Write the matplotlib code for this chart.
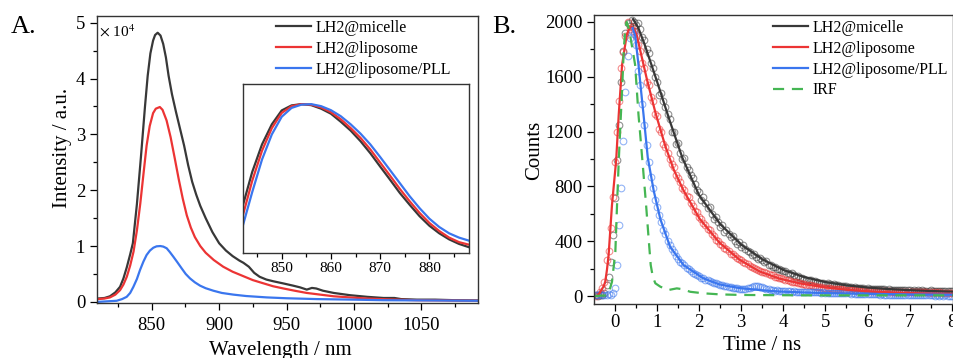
import numpy as np
import matplotlib
matplotlib.use("Agg")
import matplotlib.pyplot as plt
from matplotlib.ticker import MultipleLocator

plt.rcParams['font.family'] = ['Liberation Serif', 'DejaVu Serif']
plt.rcParams['mathtext.fontset'] = 'stix'

# ---------------- Panel A data (intensity in units of 1e4) ----------------
wl_micelle = [810, 815, 819, 823, 826.5, 829, 831.5, 834, 836, 839, 842, 845, 847,
              849, 851, 852.5, 854.4, 856.5, 858.5, 860.5, 862.5, 865, 868, 871, 874, 877, 880,
              883, 886, 890, 895, 900, 905, 910, 915, 918, 922, 926, 930, 935, 940, 947.7, 955,
              960, 965, 968.8, 972, 977, 985, 997, 1010, 1022, 1030, 1035, 1046.7, 1060, 1075,
              1092]
int_micelle = [0.06, 0.07, 0.10, 0.17, 0.27, 0.42, 0.62, 0.85, 1.05, 1.75, 2.60, 3.50, 4.05,
               4.45, 4.68, 4.78, 4.82, 4.77, 4.62, 4.38, 4.05, 3.72, 3.40, 3.10, 2.80, 2.45,
               2.15, 1.92, 1.72, 1.50, 1.25, 1.05, 0.92, 0.82, 0.74, 0.70, 0.63, 0.52, 0.45,
               0.40, 0.37, 0.33, 0.29, 0.26, 0.22, 0.25, 0.24, 0.20, 0.16, 0.12, 0.09, 0.07,
               0.07, 0.05, 0.04, 0.04, 0.03, 0.025]

wl_lipo = [810, 815, 819, 823, 826.5, 829, 831.5, 834, 836.5, 839, 841.5, 844, 846.2, 848.5, 851,
           853, 856, 858, 861, 864, 867, 870, 873, 876, 879, 882, 886, 890, 896, 903, 910, 918,
           925, 930.4, 940, 947.7, 956, 965, 975, 985, 997, 1010, 1025, 1046.7, 1070, 1092]
int_lipo = [0.05, 0.06, 0.08, 0.13, 0.21, 0.31, 0.45, 0.65, 0.90, 1.28, 1.76, 2.32, 2.80, 3.15, 3.38,
            3.46, 3.49, 3.44, 3.25, 2.95, 2.58, 2.20, 1.85, 1.55, 1.33, 1.16, 1.00, 0.88, 0.75,
            0.63, 0.54, 0.46, 0.39, 0.35, 0.28, 0.24, 0.20, 0.16, 0.13, 0.10, 0.08, 0.06, 0.045,
            0.03, 0.025, 0.02]

wl_pll = [810, 817, 824, 828, 831.4, 834, 836.4, 839, 841.3, 843.8, 846.2, 848.7, 851.2, 853.6,
          856.4, 858.6, 861.1, 863.5, 866, 869, 872.2, 875.2, 878.4, 882, 885.9, 890, 895.7, 902,
          910.6, 920, 935.4, 950, 972.5, 1000, 1022, 1060, 1092]
int_pll = [0.0, 0.01, 0.02, 0.05, 0.09, 0.16, 0.27, 0.41, 0.57, 0.72, 0.84, 0.92, 0.97, 0.995,
           1.00, 0.99, 0.96, 0.89, 0.81, 0.71, 0.60, 0.50, 0.42, 0.35, 0.29, 0.245, 0.20, 0.16,
           0.13, 0.105, 0.08, 0.065, 0.05, 0.04, 0.03, 0.025, 0.02]

# inset: normalized spectra around the maximum
wl_inset = [842, 844, 846, 848, 850, 852, 854, 856, 858, 860, 862, 864, 866, 868, 870, 872,
            874, 876, 878, 880, 882, 884, 886, 888]
norm_micelle = [0.59, 0.73, 0.84, 0.92, 0.975, 0.995, 1.0, 0.996, 0.982, 0.962, 0.93, 0.895,
                0.853, 0.805, 0.752, 0.70, 0.647, 0.60, 0.555, 0.517, 0.487, 0.463, 0.445, 0.432]
norm_lipo = [0.55, 0.695, 0.815, 0.905, 0.965, 0.992, 1.0, 0.998, 0.987, 0.968, 0.94, 0.905,
             0.866, 0.82, 0.768, 0.716, 0.663, 0.614, 0.568, 0.528, 0.496, 0.47, 0.452, 0.442]
norm_pll = [0.51, 0.65, 0.78, 0.88, 0.95, 0.985, 0.998, 1.0, 0.992, 0.976, 0.952, 0.92, 0.883,
            0.84, 0.79, 0.738, 0.686, 0.634, 0.587, 0.545, 0.512, 0.487, 0.470, 0.458]

# ---------------- Panel B data ----------------
t_start, t_step = -0.45, 0.05   # channel times of the decay histograms (ns)
cnt_micelle = [5, 0, 10, 5, 22, 80, 140, 250, 445, 713,
               993, 1250, 1560, 1790, 1920, 1990, 1970, 2010, 2000, 1980,
               1990, 1950, 1890, 1870, 1800, 1770, 1700, 1660, 1600, 1560,
               1470, 1480, 1420, 1380, 1330, 1290, 1200, 1200, 1110, 1120,
               1040, 1000, 1010, 940, 920, 880, 860, 820, 775, 760,
               700, 720, 680, 640, 650, 600, 565, 580, 540, 505,
               520, 470, 480, 450, 430, 440, 400, 380, 395, 360,
               370, 340, 330, 320, 300, 310, 285, 270, 280, 260,
               250, 255, 230, 225, 215, 210, 200, 195, 190, 180,
               185, 170, 160, 165, 150, 140, 145, 130, 135, 125,
               120, 115, 118, 105, 110, 100, 98, 95, 92, 90,
               95, 88, 84, 86, 78, 80, 74, 76, 70, 72,
               66, 68, 62, 64, 60, 62, 57, 59, 55, 57,
               53, 55, 51, 54, 49, 51, 48, 50, 46, 48,
               45, 47, 44, 46, 43, 45, 42, 44, 41, 43,
               40, 43, 39, 42, 40, 41, 38, 40, 39, 41,
               37, 40, 38, 39, 36, 38, 37, 39, 35, 37]
cnt_lipo = [0, 10, 30, 60, 100, 263, 330, 500, 720, 976,
            1200, 1420, 1662, 1780, 1900, 2000, 1950, 1960, 1930, 1900,
            1830, 1790, 1700, 1660, 1560, 1540, 1450, 1420, 1330, 1310,
            1220, 1200, 1110, 1090, 1040, 1000, 960, 940, 880, 860,
            830, 790, 770, 730, 720, 680, 660, 620, 610, 580,
            560, 530, 520, 490, 480, 450, 440, 410, 400, 380,
            370, 350, 345, 325, 310, 305, 290, 280, 270, 260,
            250, 240, 235, 220, 215, 205, 200, 190, 185, 175,
            172, 165, 160, 152, 150, 142, 138, 132, 130, 124,
            120, 115, 112, 106, 104, 99, 96, 92, 90, 85,
            83, 79, 77, 74, 71, 68, 67, 63, 62, 60,
            57, 58, 53, 55, 50, 52, 48, 50, 46, 47,
            44, 46, 42, 44, 40, 42, 39, 41, 37, 39,
            36, 38, 35, 37, 34, 36, 33, 35, 32, 34,
            31, 33, 30, 32, 30, 31, 29, 31, 28, 30,
            28, 30, 27, 29, 27, 28, 26, 28, 25, 27,
            25, 27, 24, 26, 24, 25, 23, 25, 22, 24]
cnt_pll = [10, 5, 15, 5, 10, 5, 15, 10, 25, 60,
           226, 520, 790, 1130, 1490, 1750, 1880, 1935, 1910, 1830,
           1640, 1540, 1400, 1250, 1100, 980, 870, 790, 700, 650,
           590, 540, 480, 450, 400, 370, 340, 320, 290, 270,
           250, 240, 225, 205, 195, 185, 170, 160, 150, 145,
           135, 130, 120, 115, 108, 100, 98, 92, 86, 84,
           78, 74, 72, 68, 64, 62, 60, 56, 55, 52,
           52, 55, 58, 62, 66, 70, 72, 70, 68, 64,
           60, 55, 50, 46, 44, 40, 42, 38, 40, 36,
           38, 35, 36, 33, 34, 32, 33, 30, 31, 29,
           30, 28, 29, 27, 28, 26, 27, 25, 26, 24,
           25, 23, 24, 22, 23, 21, 22, 20, 21, 19,
           20, 18, 19, 17, 18, 16, 17, 15, 16, 14,
           15, 13, 14, 12, 13, 11, 12, 10, 11, 10,
           11, 9, 10, 8, 9, 8, 9, 7, 8, 7,
           8, 6, 7, 6, 7, 5, 6, 5, 6, 5,
           6, 4, 5, 4, 5, 4, 5, 3, 4, 3]

# fitted curves
tf_micelle = [0.43, 0.55, 0.70, 1.0, 1.3, 1.6, 2.0, 2.5, 3.0, 3.5, 4.0, 4.5, 5.0, 5.5, 6.0, 6.5,
              7.0, 7.5, 8.03]
fit_micelle = [2020, 1960, 1840, 1565, 1280, 1010, 735, 525, 375, 268, 190, 138, 102, 78, 62, 51,
               43, 37, 32]
tf_lipo = [-0.45, -0.40, -0.35, -0.27, -0.23, -0.19, -0.15, -0.07, 0.03, 0.09, 0.17, 0.28, 0.34,
           0.40, 0.46, 0.52, 0.76, 0.96, 1.2, 1.4, 1.63, 2.01, 2.48, 2.96, 3.43, 3.90, 4.38, 5.0,
           5.5, 6.0, 6.5, 7.0, 7.5, 8.03]
fit_lipo = [0, 5, 30, 70, 104, 190, 300, 664, 993, 1321, 1686, 1905, 1950, 1965, 1945, 1900, 1580,
            1340, 1090, 920, 770, 565, 390, 265, 180, 128, 93, 63, 46, 35, 27, 22, 18, 16]
tf_pll = [0.42, 0.48, 0.56, 0.62, 0.68, 0.78, 0.92, 1.08, 1.31, 1.63, 2.10, 2.48, 2.96, 3.5, 3.9,
          4.5, 5.09, 6.0, 7.0, 8.03]
fit_pll = [1955, 1900, 1686, 1500, 1321, 1010, 770, 560, 360, 226, 129, 85, 58, 42, 33, 26, 21,
           16, 12, 10]
t_irf = [-0.48, -0.2, -0.15, -0.07, 0.01, 0.05, 0.09, 0.13, 0.17, 0.21, 0.25, 0.28, 0.32, 0.36,
         0.48, 0.56, 0.60, 0.66, 0.74, 0.80, 0.85, 0.90, 0.96, 1.08, 1.27, 1.47, 1.6, 1.79, 2.10,
         2.5, 3.0, 4.0, 5.0, 6.0, 7.0, 8.03]
irf = [0, 5, 20, 104, 323, 664, 980, 1250, 1500, 1800, 1960, 2000, 1960, 1905, 1686, 1321, 1180,
       960, 664, 421, 226, 140, 93, 68, 44, 56, 50, 31, 20, 12, 8, 6, 5, 5, 5, 5]

labels = ['LH2@micelle', 'LH2@liposome', 'LH2@liposome/PLL']
c_black, c_red, c_blue, c_green = '#383838', '#ec3434', '#3a76ee', '#45b653'

fig = plt.figure(figsize=(9.54, 3.58), dpi=100)
W, H = 954, 358


def px_axes(l, r, t, b):
    return fig.add_axes([l / W, (H - b) / H, (r - l) / W, (b - t) / H])


def style(ax, fs=13.5, pad=3.5):
    ax.tick_params(which='both', direction='out', top=False, right=False, labelsize=fs,
                   width=0.9, pad=pad)
    ax.tick_params(which='major', length=5)
    ax.tick_params(which='minor', length=3)
    for s in ax.spines.values():
        s.set_linewidth(1.0)
        s.set_color('#333333')


leg_kw = dict(loc='upper left', frameon=False, fontsize=11.5, handlelength=2.2,
              handletextpad=0.3, labelspacing=0.3, borderpad=0, borderaxespad=0)

# ---- Panel A ----
axA = px_axes(97, 478, 16, 303)
lw = 1.6
axA.plot(wl_micelle, int_micelle, color=c_black, lw=lw, label=labels[0])
axA.plot(wl_lipo, int_lipo, color=c_red, lw=lw, label=labels[1])
axA.plot(wl_pll, int_pll, color=c_blue, lw=lw, label=labels[2])
axA.set_xlim(809.4, 1092)
axA.set_ylim(-0.02, 5.12)
axA.xaxis.set_major_locator(MultipleLocator(50))
axA.xaxis.set_minor_locator(MultipleLocator(25))
axA.yaxis.set_major_locator(MultipleLocator(1))
axA.yaxis.set_minor_locator(MultipleLocator(0.5))
style(axA)
axA.tick_params(axis='x', pad=5)
axA.set_xlabel('Wavelength / nm', fontsize=15)
axA.set_ylabel('Intensity / a.u.', fontsize=15)
axA.xaxis.set_label_coords(0.48, -0.132)
axA.yaxis.set_label_coords(-0.066, 0.54)
axA.text(0.005, 0.975, r'$\times$ 10$^{4}$', transform=axA.transAxes, fontsize=11,
         ha='left', va='top')
axA.legend(bbox_to_anchor=((276 - 97) / 381, (303 - 20) / 287), **leg_kw)
fig.text(11 / W, 1 - 33 / H, 'A.', fontsize=19, ha='left', va='baseline')

# inset
axI = px_axes(243.3, 469.3, 84, 252.7)
axI.plot(wl_inset, norm_micelle, color=c_black, lw=1.6)
axI.plot(wl_inset, norm_lipo, color=c_red, lw=1.6)
axI.plot(wl_inset, norm_pll, color=c_blue, lw=1.6)
axI.set_xlim(842.2, 888.1)
axI.set_ylim(0.41, 1.08)
axI.xaxis.set_major_locator(MultipleLocator(10))
axI.xaxis.set_minor_locator(MultipleLocator(5))
axI.set_yticks([])
style(axI, fs=11)
axI.tick_params(which='major', length=4)
axI.tick_params(which='minor', length=3)
axI.tick_params(axis='x', pad=3)

# ---- Panel B ----
axB = px_axes(594.3, 953, 15, 304)
tm = t_start + t_step * np.arange(len(cnt_micelle))
tl = t_start + t_step * np.arange(len(cnt_lipo))
tp = t_start + t_step * np.arange(len(cnt_pll))
mk = dict(marker='o', ls='none', markersize=4.8, markerfacecolor='none', markeredgewidth=0.8,
          alpha=0.55)
axB.plot(tm, cnt_micelle, markeredgecolor=c_black, **mk)
axB.plot(tl, cnt_lipo, markeredgecolor=c_red, **mk)
axB.plot(tp, cnt_pll, markeredgecolor=c_blue, **mk)
axB.plot(tf_micelle, fit_micelle, color=c_black, lw=lw, label=labels[0])
axB.plot(tf_lipo, fit_lipo, color=c_red, lw=lw, label=labels[1])
axB.plot(tf_pll, fit_pll, color=c_blue, lw=lw, label=labels[2])
axB.plot(t_irf, irf, color=c_green, lw=1.6, dashes=(5, 3.5), label='IRF')
axB.set_xlim(-0.49, 8.03)
axB.set_ylim(-58, 2050)
axB.xaxis.set_major_locator(MultipleLocator(1))
axB.xaxis.set_minor_locator(MultipleLocator(0.5))
axB.yaxis.set_major_locator(MultipleLocator(400))
axB.yaxis.set_minor_locator(MultipleLocator(200))
style(axB)
axB.tick_params(axis='x', pad=2)
axB.set_xlabel('Time / ns', fontsize=15)
axB.set_ylabel('Counts', fontsize=15)
axB.xaxis.set_label_coords(0.4675, -0.112)
axB.yaxis.set_label_coords(-0.140, 0.53)
axB.legend(bbox_to_anchor=((773 - 594.3) / 358.7, (304 - 20) / 289), **leg_kw)
fig.text(492 / W, 1 - 33 / H, 'B.', fontsize=19, ha='left', va='baseline')

fig.savefig('out.png', dpi=100)
